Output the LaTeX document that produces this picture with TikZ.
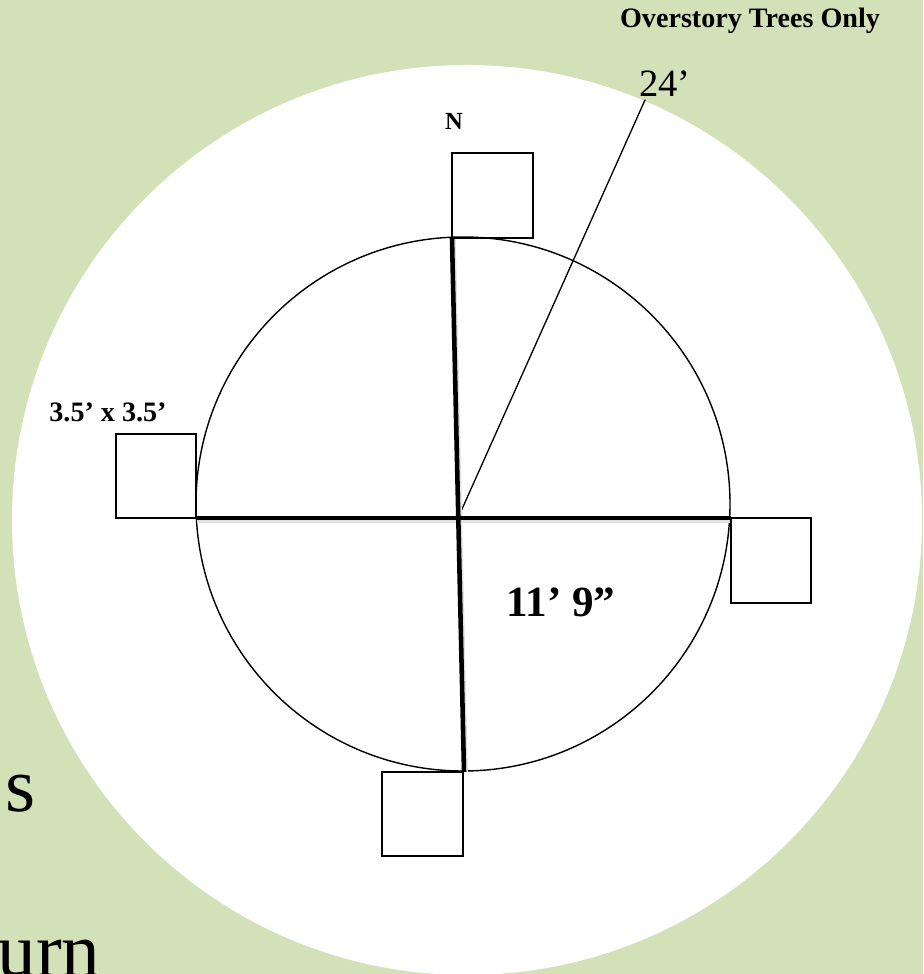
\documentclass[tikz,border=0pt]{standalone}
\usepackage{fontspec}
\setmainfont{Liberation Serif}
\definecolor{sage}{RGB}{211,225,184}

\begin{document}
\begin{tikzpicture}[line cap=round,line join=round,
  boldlbl/.style={font=\bfseries\fontsize{16}{19}\selectfont,inner sep=0pt},
  quad/.style={line width=1.1pt,line cap=butt,line join=miter},
  axis/.style={line width=2.6pt,line cap=butt}]
  \useasboundingbox (0,0) rectangle (18.46,19.48);
  \fill[sage] (0,0) rectangle (18.46,19.48);
  \fill[white] (9.34,9.08) circle (9.10);
  % background text cut by the page
  \node[anchor=base west,inner sep=0pt,font=\fontsize{44}{50}\selectfont] (bgs) at (0.10,3.24) {s};
  \node[anchor=base west,inner sep=0pt,font=\fontsize{44}{50}\selectfont] (bgurn) at (-0.06,-0.04) {urn};
  \coordinate (O) at (9.16,9.12);
  \draw[line width=0.8pt] (9.26,9.40) circle (5.34);
  \draw[line width=0.75pt] (O) -- (12.90,17.48);
  % soft shadow of the thick lines
  \draw[axis,black!12] (3.94,9.07) -- (14.62,9.07);
  \draw[axis,black!12] (9.07,14.70) -- (9.31,4.04);
  \draw[axis] (3.92,9.12) -- (14.62,9.12);
  \draw[axis] (9.04,14.72) -- (9.28,4.04);
  \draw[quad] (9.04,14.72) rectangle (10.66,16.42);
  \draw[quad] (2.32,9.12) rectangle (3.92,10.80);
  \draw[quad] (14.62,7.42) rectangle (16.22,9.12);
  \draw[quad] (7.64,2.36) rectangle (9.26,4.04);
  \node[boldlbl] (title) at (15.00,19.06) {Overstory Trees Only};
  \node[inner sep=0pt,font=\fontsize{22}{26}\selectfont] (rad) at (13.30,17.80) {24'};
  \node[boldlbl,font=\bfseries\fontsize{14}{17}\selectfont] (north) at (9.08,17.06) {N};
  \node[boldlbl] (size) at (2.16,11.24) {3.5' x 3.5'};
  \node[boldlbl,font=\bfseries\fontsize{24.5}{29}\selectfont] (inner) at (11.22,7.44) {11' 9''};
\end{tikzpicture}
\end{document}
